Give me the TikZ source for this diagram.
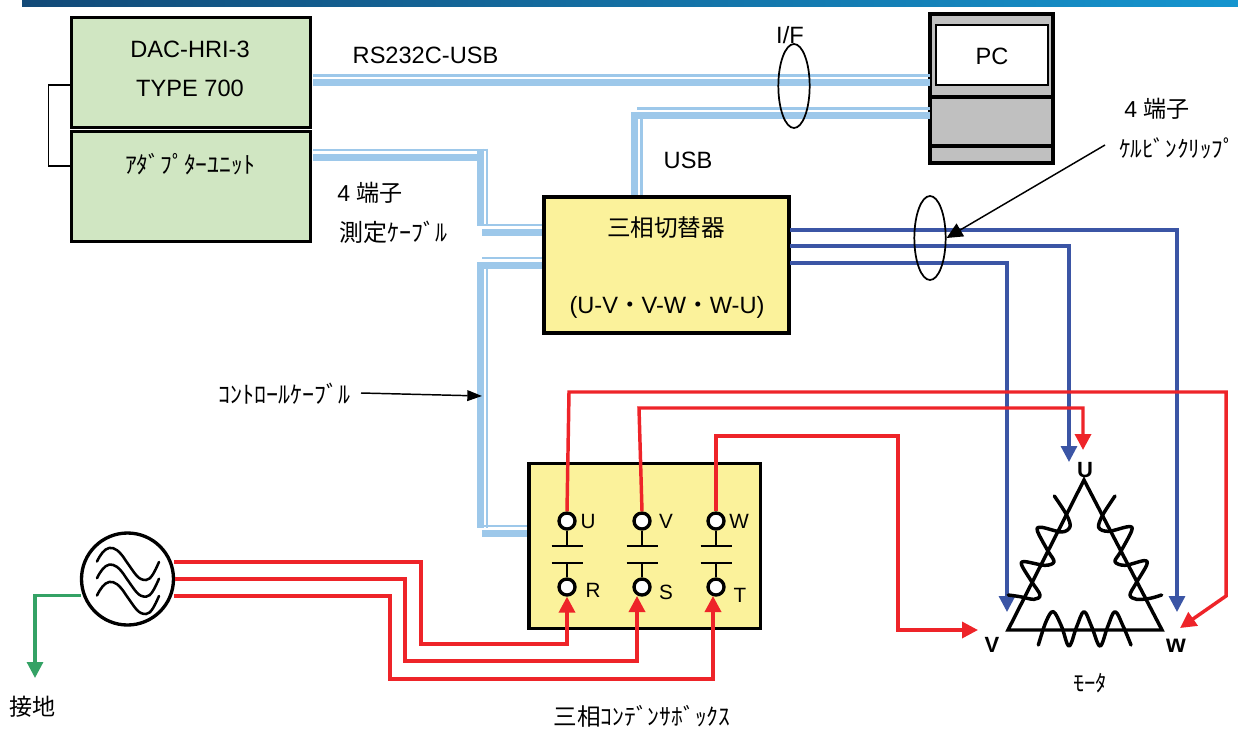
\documentclass[tikz,border=0pt]{standalone}
\usepackage{fontspec}
\setmainfont{Liberation Sans}
\newfontfamily\cjk{Noto Sans CJK JP}
\usetikzlibrary{arrows.meta,calc,shapes.geometric}
\definecolor{boxgreen}{HTML}{D0E6C2}
\definecolor{boxyellow}{HTML}{FBF29B}
\definecolor{cable}{HTML}{9DC8EA}
\definecolor{wireblue}{HTML}{3B55A5}
\definecolor{wirered}{HTML}{EE2429}
\definecolor{wiregreen}{HTML}{34A265}
\definecolor{pcgray}{HTML}{C0C0C0}
\definecolor{barL}{HTML}{134A78}
\definecolor{barR}{HTML}{1595CF}
\tikzset{
 txt/.style={inner sep=0pt,font=\fontsize{17.7}{20}\selectfont},
 small/.style={inner sep=0pt,font=\fontsize{15.5}{18}\selectfont},
 big/.style={inner sep=0pt,font=\fontsize{16.5}{20}\selectfont\bfseries},
 panel/.style={draw=black,line width=2.5pt,inner sep=0pt},
 thick cable/.style={cable,line width=5.25pt},
 thin cable/.style={cable,line width=1.9pt},
 bwire/.style={wireblue,line width=2.4pt},
 rwire/.style={wirered,line width=2.6pt},
 btip/.style={-{Triangle[length=12pt,width=12pt]}},
 term/.style={circle,draw=black,fill=white,line width=2.5pt,minimum size=12pt,inner sep=0pt},
 plate/.style={black,line width=1.4pt},
 coil/.style={black,line width=2.6pt,line cap=round,line join=round},
 ring/.style={draw=black,ellipse,line width=1.3pt,minimum width=23.5pt,minimum height=63pt,inner sep=0pt},
}
\begin{document}
\begin{tikzpicture}[x=0.75pt,y=-0.75pt]
\useasboundingbox (0,0) rectangle (1238,728);
\shade[left color=barL,right color=barR] (22,0) rectangle (1238,6);

% instrument boxes
\draw[black,line width=1.2pt] (70,85) -- (48.5,85) -- (48.5,166) -- (70,166);
\node[panel,fill=boxgreen,minimum width=179.25pt,minimum height=82.5pt] (dac) at (191,72.5) {};
\node[panel,fill=boxgreen,minimum width=179.25pt,minimum height=82.5pt] (adp) at (191,186.5) {};
\node[txt] (t1) at (190,49) {DAC-HRI-3};
\node[txt] (t2) at (190,88) {TYPE 700};
\node[txt] (t3) at (190,164) {\cjk ｱﾀﾞﾌﾟﾀｰﾕﾆｯﾄ};

% PC
\coordinate (pcA) at (930,82.5);
\coordinate (pcB) at (930,115.5);
\node[panel,fill=pcgray,minimum width=92.25pt,minimum height=111.75pt] (pc) at (991.5,88.5) {};
\draw[black,line width=2.5pt] (930,97) -- (1053,97) (930,146) -- (1053,146);
\node[draw=black,fill=white,line width=1.3pt,minimum width=83.5pt,minimum height=44.5pt,inner sep=0pt] (scr) at (992,55) {};
\node[txt] (t4) at (992,56) {PC};

% switch
\node[panel,fill=boxyellow,minimum width=183.75pt,minimum height=102pt] (sw) at (666.5,265) {};
\node[txt] (t5) at (666,228) {\cjk 三相切替器};
\node[txt] (t6) at (667,307) {(U-V{\cjk ・}V-W{\cjk ・}W-U)};

% capacitor box
\node[panel,fill=boxyellow,minimum width=173.5pt,minimum height=124pt] (cap) at (644.5,546) {};

% cables
\coordinate (dacE) at (313,82.5);
\coordinate (adpE) at (313,157);
% RS232C-USB
\draw[thick cable] (dacE) -- (pcA);
\draw[thin cable] (313,75.5) -- (930,75.5);
% measuring cable
\draw[thick cable] (adpE) -- (484,157);
\draw[thin cable] (313,150) -- (488,150);
\draw[thick cable] (480.5,148.5) -- (480.5,226);
\draw[thin cable] (487,148.5) -- (487,224);
\draw[thin cable] (477,224.8) -- (542,224.8);
\draw[thick cable] (482,232) -- (542,232);
% control cable
\draw[thin cable] (482,258) -- (542,258);
\draw[thick cable] (477,265.5) -- (542,265.5);
\draw[thick cable] (480.5,262) -- (480.5,528);
\draw[thin cable] (487,269) -- (487,528);
\draw[thin cable] (477,526) -- (527,526);
\draw[thick cable] (482,533.5) -- (527,533.5);
% USB
\draw[thick cable] (634.5,195) -- (634.5,112);
\draw[thin cable] (641.5,195) -- (641.5,119);
\draw[thick cable] (631,115.5) -- (pcB);
\draw[thin cable] (637,108.5) -- (930,108.5);

% blue wires
\coordinate (m1) at (1177,612);
\coordinate (m2) at (1069,462);
\coordinate (m3) at (1007,612);
\draw[bwire,btip] (790,230) -| (m1);
\draw[bwire,btip] (790,246) -| (m2);
\draw[bwire,btip] (790,263) -| (m3);

% rings
\node[ring] (if) at (794,86) {};
\node[ring] (kc) at (930,238) {};
\node[txt] (t7) at (790,35) {I/F};

% terminals
\foreach \n/\x in {U/567,V/642,W/716}{
  \node[term] (t\n) at (\x,521) {};
}
\foreach \n/\x in {R/567,S/642,T/716}{
  \node[term] (t\n) at (\x,587) {};
}
\foreach \a/\b/\x in {U/R/567,V/S/642,W/T/716}{
  \draw[plate] (t\a.south) -- (\x,546);
  \draw[plate] (\x-15.5,546) -- (\x+15.5,546);
  \draw[plate] (\x-15.5,563) -- (\x+15.5,563);
  \draw[plate] (\x,563) -- (t\b.north);
}
\node[small] (lU) at (588,521) {U};
\node[small] (lV) at (666,521) {V};
\node[small] (lW) at (739,521) {W};
\node[small] (lR) at (593,590) {R};
\node[small] (lS) at (666,592) {S};
\node[small] (lT) at (740,595) {T};

% red wires to motor
\coordinate (mU) at (1083,450);
\coordinate (mV) at (978,630);
\coordinate (mW) at (1180,628);
\draw[rwire,btip] (tU.north) -- (569,392) -- (1226,392) -- (1226,596) -- (mW);
\draw[rwire,btip] (tV.north) -- (639,408) -- (1083,408) -- (mU);
\draw[rwire,btip] (tW.north) -- (716,436) -- (898,436) -- (898,630) -- (mV);

% AC source
\node[circle,draw=black,line width=2.5pt,fill=white,minimum size=69pt,inner sep=0pt] (src) at (127.5,579) {};
\foreach \d in {0,16.7,34}{
  \draw[black,line width=1.9pt,line cap=round]
    (97,561.5+\d) .. controls (104,547+\d) and (113,540+\d) .. (126,561+\d)
    .. controls (136,575+\d) and (138,580+\d) .. (146,580+\d)
    .. controls (151,580+\d) and (155,571+\d) .. (159,562+\d);
}
\coordinate (s1) at (174,562);
\coordinate (s2) at (175,579);
\coordinate (s3) at (174,596);
\draw[rwire,btip] (s1) -- (421,562) -- (421,644) -- (567,644) -- (tR.south);
\draw[rwire,btip] (s2) -- (405,579) -- (405,661) -- (637,661) -- (637,596);
\draw[rwire,btip] (s3) -- (390,596) -- (390,679) -- (713,679) -- (713,596);

% ground
\coordinate (gs) at (81,595.5);
\coordinate (gnd) at (35,678);
\draw[wiregreen,line width=2.3pt,btip] (gs) -- (35,595.5) -- (gnd);
\node[inner sep=0pt,font=\fontsize{17.3}{20}\selectfont\cjk] (t8) at (33,707) {接地};

% motor
\coordinate (A) at (1084,480);
\coordinate (B) at (1008,630);
\coordinate (C) at (1162,630);
\draw[coil,line join=miter] (A) -- (B) -- (C) -- cycle;
\begin{scope}[shift={(960,420)},x=0.25pt,y=-0.25pt]
\draw[coil] plot[smooth,tension=0.55] coordinates {(283,228) (320,285) (330,320) (305,336) (245,322) (232,332) (262,390) (282,425) (255,436) (195,425) (185,435) (215,485) (240,525) (222,538) (180,530) (145,525)};
\draw[coil] plot[smooth,tension=0.55] coordinates {(465,228) (428,285) (416,322) (445,334) (505,320) (515,332) (482,395) (465,425) (495,436) (552,422) (560,435) (528,490) (510,525) (530,538) (570,535) (605,525)};
\draw[coil] plot[smooth,tension=0.6] coordinates {(235,675) (258,605) (280,575) (305,620) (327,678) (350,620) (372,575) (395,620) (420,678) (443,620) (465,575) (490,620) (513,675)};
\end{scope}
\node[big] (nU) at (1085,470) {U};
\node[big] (nV) at (992,645) {V};
\node[big] (nW) at (1176,646) {\fontsize{19}{20}\selectfont w};

% labels and pointers
\node[txt] (t9) at (425.5,55) {RS232C-USB};
\node[txt] (t10) at (688,160) {USB};
\node[inner sep=0pt,font=\fontsize{17.3}{20}\selectfont] (t11) at (370,193) {4 {\cjk 端子}};
\node[inner sep=0pt,font=\fontsize{18}{20}\selectfont\cjk] (t12) at (393,232) {測定ｹｰﾌﾞﾙ};
\node[inner sep=0pt,font=\fontsize{17.3}{20}\selectfont] (t13) at (1157,109) {4 {\cjk 端子}};
\node[inner sep=0pt,font=\fontsize{17.4}{20}\selectfont\cjk] (t14) at (1177,148) {ｹﾙﾋﾞﾝｸﾘｯﾌﾟ};
\node[inner sep=0pt,font=\fontsize{18}{20}\selectfont\cjk] (t15) at (284,394) {ｺﾝﾄﾛｰﾙｹｰﾌﾞﾙ};
\node[inner sep=0pt,font=\fontsize{17.7}{20}\selectfont\cjk] (t16) at (642,716) {三相ｺﾝﾃﾞﾝｻﾎﾞｯｸｽ};
\node[inner sep=0pt,font=\fontsize{17}{20}\selectfont\cjk] (t17) at (1090,683) {ﾓｰﾀ};

\coordinate (p1) at (1105,145);
\coordinate (p2) at (361,393);
\coordinate (p3) at (482,396);
\draw[black,line width=1.1pt,-{Triangle[length=12pt,width=11pt]}] (p1) -- (kc.east);
\draw[black,line width=1.1pt,-{Triangle[length=11pt,width=8pt]}] (p2) -- (p3);
\end{tikzpicture}
\end{document}
